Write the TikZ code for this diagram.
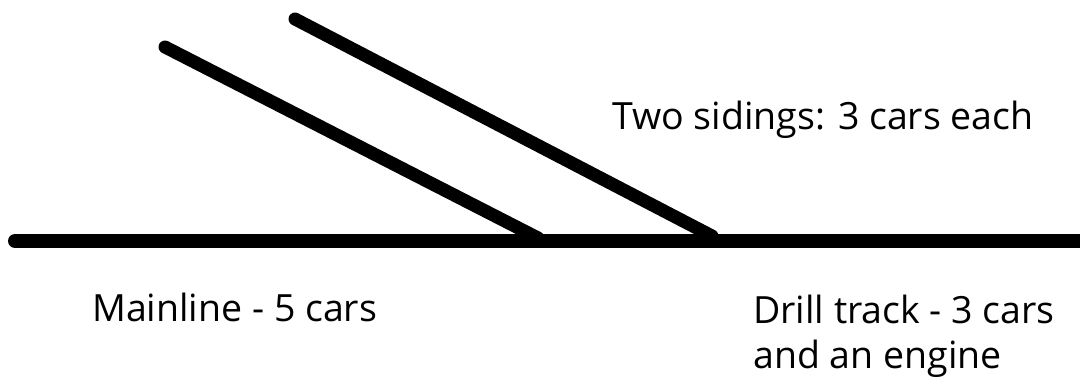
\documentclass[tikz,border=0pt]{standalone}
\usepackage{fontspec}
\setmainfont{Open Sans}
\usepackage{tikz}
\usetikzlibrary{positioning}

\begin{document}
\begin{tikzpicture}[
            x=1pt, y=-1pt,
            track/.style={draw, line width=13pt, line cap=round},
            lbl/.style={anchor=base west, inner sep=0pt, font=\fontsize{37.5}{45}\selectfont},
        ]
        \useasboundingbox (0,0) rectangle (1080,382);

        % Track ends
        \coordinate (mainW) at (15,241);
        \coordinate (mainE) at (1090,241);
        \coordinate (sidAW) at (165,47);
        \coordinate (sidAE) at (538,238);
        \coordinate (sidBW) at (295,19);
        \coordinate (sidBE) at (712,236);

        % Tracks
        \draw[track] (sidAW) -- (sidAE);
        \draw[track] (sidBW) -- (sidBE);
        \draw[track, line width=14pt] (mainW) -- (mainE);

        % Labels
        \node[lbl] (sidings) at (612,130) {Two sidings: 3 cars each};
        \node[lbl] (mainline) at (92,322) {Mainline - 5 cars};
        \node[lbl, align=left] (drill) at (753,368) {Drill track - 3 cars\\and an engine};
    \end{tikzpicture}
\end{document}
